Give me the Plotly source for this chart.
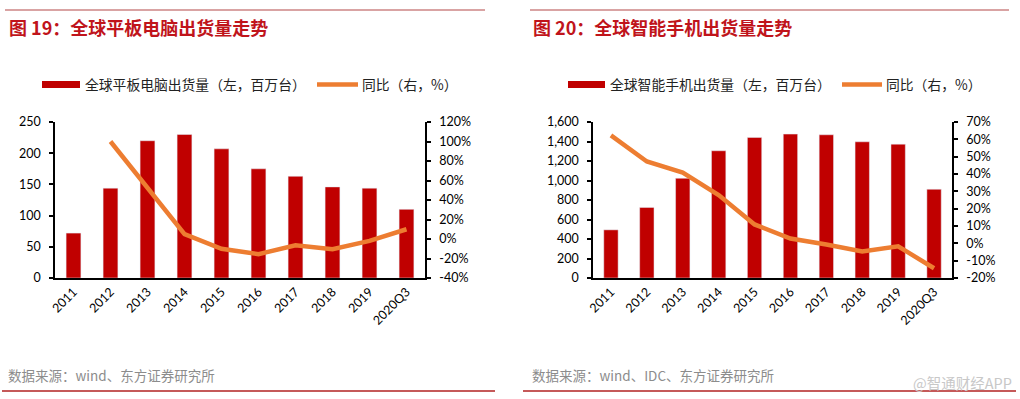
import plotly.graph_objects as go

# ---------------- data ----------------
years = ["2011", "2012", "2013", "2014", "2015", "2016", "2017", "2018", "2019", "2020Q3"]
tablet_ship = [72, 144, 220, 230, 207, 175, 163, 146, 144, 110]
tablet_yoy = [None, 100, 53, 5, -10, -15.5, -6.5, -10.5, -2, 10]
phone_ship = [494, 724, 1023, 1305, 1442, 1476, 1469, 1397, 1373, 910]
phone_yoy = [62.3, 47.2, 40.8, 27.9, 10.9, 2.8, -0.7, -4.7, -1.7, -14.4]

left_ticks = [0, 50, 100, 150, 200, 250]
left_pct_ticks = [-40, -20, 0, 20, 40, 60, 80, 100, 120]
right_ticks = [0, 200, 400, 600, 800, 1000, 1200, 1400, 1600]
right_pct_ticks = [-20, -10, 0, 10, 20, 30, 40, 50, 60, 70]

title_l = "图 19：全球平板电脑出货量走势"
title_r = "图 20：全球智能手机出货量走势"
leg_bar_l = "全球平板电脑出货量（左，百万台）"
leg_bar_r = "全球智能手机出货量（左，百万台）"
leg_line = "同比（右，%）"
src_l = "数据来源：wind、东方证券研究所"
src_r = "数据来源：wind、IDC、东方证券研究所"
watermark = "@智通财经APP"

# ---------------- style ----------------
W, H = 1020, 399
BAR = "#C00000"
LINE = "#ED7D31"
TITLE_RED = "#C0141B"
CJK = "Noto Sans CJK SC"
NUM = "Lato, 'Open Sans', sans-serif"


def px(x):
    return x / W


def py(y):
    return 1 - y / H


y_dom = [py(278), py(122)]
xl_dom = [px(55), px(425)]
xr_dom = [px(593), px(952)]

fig = go.Figure()

fig.add_trace(go.Bar(x=years, y=tablet_ship, marker_color=BAR, width=0.4,
                     xaxis="x", yaxis="y", showlegend=False))
fig.add_trace(go.Scatter(x=years, y=tablet_yoy, mode="lines",
                         line=dict(color=LINE, width=4.5), xaxis="x", yaxis="y2",
                         showlegend=False))
fig.add_trace(go.Bar(x=years, y=phone_ship, marker_color=BAR, width=0.4,
                     xaxis="x2", yaxis="y3", showlegend=False))
fig.add_trace(go.Scatter(x=years, y=phone_yoy, mode="lines",
                         line=dict(color=LINE, width=4.5), xaxis="x2", yaxis="y4",
                         showlegend=False))

axis_common = dict(showgrid=False, zeroline=False, showline=True, linecolor="black",
                   linewidth=1.5, automargin=False,
                   tickfont=dict(family=NUM, size=12.5, color="black"))

xcommon = dict(axis_common, type="category", range=[-0.5, 9.5], tickangle=-45,
               ticks="", tickfont=dict(family=NUM, size=12.5, color="black"))

yticks = dict(ticks="outside", ticklen=4, tickwidth=1.5, tickcolor="black",
              ticklabelstandoff=6)

fig.update_layout(
    width=W, height=H, autosize=False,
    margin=dict(l=0, r=0, t=0, b=0, pad=0),
    paper_bgcolor="white", plot_bgcolor="white",
    xaxis=dict(xcommon, domain=xl_dom, anchor="y"),
    yaxis=dict(axis_common, **yticks, domain=y_dom, anchor="x", range=[0, 250],
               tickmode="array", tickvals=left_ticks,
               ticktext=[str(v) for v in left_ticks]),
    yaxis2=dict(axis_common, **yticks, overlaying="y", side="right", anchor="x",
                range=[-40, 120], tickmode="array", tickvals=left_pct_ticks,
                ticktext=[f"{v}%" for v in left_pct_ticks]),
    xaxis2=dict(xcommon, domain=xr_dom, anchor="y3"),
    yaxis3=dict(axis_common, **yticks, domain=y_dom, anchor="x2", range=[0, 1600],
                tickmode="array", tickvals=right_ticks,
                ticktext=[f"{v:,}" for v in right_ticks]),
    yaxis4=dict(axis_common, **yticks, overlaying="y3", side="right", anchor="x2",
                range=[-20, 70], tickmode="array", tickvals=right_pct_ticks,
                ticktext=[f"{v}%" for v in right_pct_ticks]),
)

shapes = []
annotations = []

# top rules
shapes.append(dict(type="line", xref="paper", yref="paper", x0=px(5), x1=px(485),
                   y0=py(10), y1=py(10), line=dict(color="#D9A3A3", width=2)))
shapes.append(dict(type="line", xref="paper", yref="paper", x0=px(530), x1=px(1009),
                   y0=py(10), y1=py(10), line=dict(color="#D9A3A3", width=2)))
# bottom rules
shapes.append(dict(type="line", xref="paper", yref="paper", x0=px(2), x1=px(495),
                   y0=py(391), y1=py(391), line=dict(color="#B22222", width=1.5)))
shapes.append(dict(type="line", xref="paper", yref="paper", x0=px(523), x1=px(1016),
                   y0=py(391), y1=py(391), line=dict(color="#B22222", width=1.5)))

# titles
for x0, t in [(7, title_l), (531, title_r)]:
    annotations.append(dict(x=px(x0), y=py(27), xref="paper", yref="paper", text="<b>" + t + "</b>",
                            showarrow=False, xanchor="left", yanchor="middle",
                            font=dict(family=CJK, size=18, color=TITLE_RED)))

# legends
for (rx0, rx1, tx, lx0, lx1, tx2, lab) in [
    (42, 80, 83, 317, 358, 360, leg_bar_l),
    (568, 605, 608, 842, 882, 884, leg_bar_r),
]:
    shapes.append(dict(type="rect", xref="paper", yref="paper", x0=px(rx0), x1=px(rx1),
                       y0=py(88), y1=py(81), fillcolor=BAR, line=dict(width=0)))
    shapes.append(dict(type="line", xref="paper", yref="paper", x0=px(lx0), x1=px(lx1),
                       y0=py(84.5), y1=py(84.5), line=dict(color=LINE, width=4.5)))
    annotations.append(dict(x=px(tx), y=py(84.5), xref="paper", yref="paper", text=lab,
                            showarrow=False, xanchor="left", yanchor="middle",
                            font=dict(family=CJK, size=13.8, color="#222")))
    annotations.append(dict(x=px(tx2), y=py(84.5), xref="paper", yref="paper", text=leg_line,
                            showarrow=False, xanchor="left", yanchor="middle",
                            font=dict(family=CJK, size=13.8, color="#222")))

# sources
for x0, t in [(6, src_l), (530, src_r)]:
    annotations.append(dict(x=px(x0), y=py(375), xref="paper", yref="paper", text=t,
                            showarrow=False, xanchor="left", yanchor="middle",
                            font=dict(family=CJK, size=13.5, color="#8C8C8C")))

annotations.append(dict(x=px(1014), y=py(382), xref="paper", yref="paper", text=watermark,
                        showarrow=False, xanchor="right", yanchor="middle",
                        font=dict(family=CJK, size=14.5, color="#C8C8C8")))

fig.update_layout(shapes=shapes, annotations=annotations)

fig.write_html(
    "out.html",
    config={"displayModeBar": False},
    post_script="document.body.style.margin='0';document.body.style.padding='0';"
                "document.documentElement.style.overflow='hidden';",
)
